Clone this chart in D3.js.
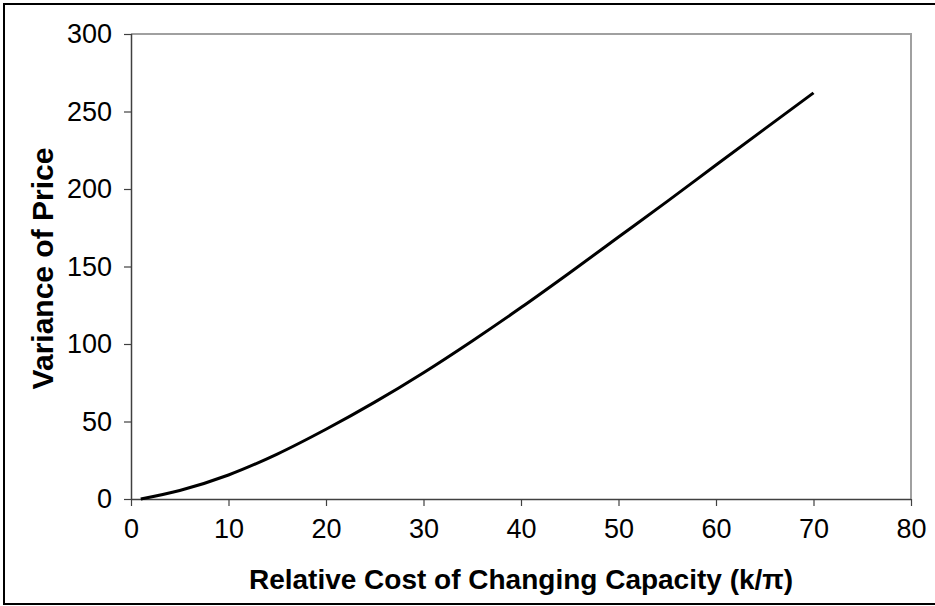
<!DOCTYPE html>
<html>
<head>
<meta charset="utf-8">
<script src="https://cdn.jsdelivr.net/npm/d3@7"></script>
<style>
  html, body { margin: 0; padding: 0; background: #fff; }
  svg { display: block; font-family: "Liberation Sans", Arial, sans-serif; }
</style>
</head>
<body>
<svg id="chart" width="935" height="606"></svg>
<script>
// Relative cost of changing capacity (k/π) vs. variance of price
const costValues = [1, 5, 10, 15, 20, 25, 30, 35, 40, 45, 50, 55, 60, 65, 70];
const varianceValues = [0, 5.5, 15.5, 29, 45, 62.5, 81.5, 102, 123.5, 146, 169, 192, 215.5, 238.8, 262];
const xTicks = [0, 10, 20, 30, 40, 50, 60, 70, 80];
const yTicks = [0, 50, 100, 150, 200, 250, 300];
const xTitle = "Relative Cost of Changing Capacity (k/\u03c0)";
const yTitle = "Variance of Price";

const svg = d3.select("#chart");
const plot = { left: 131, right: 911, top: 34, bottom: 499 };

const x = d3.scaleLinear().domain([0, 80]).range([plot.left, plot.right]);
const y = d3.scaleLinear().domain([0, 300]).range([plot.bottom, plot.top]);

// outer frame (left, top, bottom edges)
svg.append("path")
  .attr("d", `M935,4 H4 V604 H935`)
  .attr("fill", "none")
  .attr("stroke", "#000")
  .attr("stroke-width", 2);

// plot area border: top and right in grey
svg.append("path")
  .attr("d", `M${plot.left},${plot.top} H${plot.right} V${plot.bottom}`)
  .attr("fill", "none")
  .attr("stroke", "#a0a0a0")
  .attr("stroke-width", 2);

// x axis
const xAxis = svg.append("g")
  .attr("transform", `translate(0,${plot.bottom})`)
  .call(d3.axisBottom(x).tickValues(xTicks).tickSize(7).tickPadding(13).tickFormat(d3.format("d")));

// y axis
const yAxis = svg.append("g")
  .attr("transform", `translate(${plot.left},0)`)
  .call(d3.axisLeft(y).tickValues(yTicks).tickSize(7).tickPadding(12).tickFormat(d3.format("d")));

[xAxis, yAxis].forEach(g => {
  g.select(".domain").attr("stroke", "#404040").attr("stroke-width", 1.5);
  g.selectAll(".tick line").attr("stroke", "#404040").attr("stroke-width", 1.2);
  g.selectAll(".tick text")
    .attr("fill", "#000")
    .style("font-size", "27px")
    .style("font-family", "\"Liberation Sans\", Arial, sans-serif");
});
xAxis.selectAll(".domain").attr("d", `M${plot.left},0.5H${plot.right}`);
yAxis.selectAll(".domain").attr("d", `M0.5,${plot.top}V${plot.bottom}`);

// curve
const line = d3.line()
  .x((d, i) => x(costValues[i]))
  .y(d => y(d))
  .curve(d3.curveMonotoneX);

svg.append("path")
  .datum(varianceValues)
  .attr("d", line)
  .attr("fill", "none")
  .attr("stroke", "#000")
  .attr("stroke-width", 3);

// axis titles
svg.append("text")
  .attr("x", (plot.left + plot.right) / 2)
  .attr("y", 589)
  .attr("text-anchor", "middle")
  .style("font-size", "28px")
  .style("font-weight", "bold")
  .text(xTitle);

svg.append("text")
  .attr("transform", `translate(53,${(plot.top + plot.bottom) / 2 + 2}) rotate(-90)`)
  .attr("text-anchor", "middle")
  .style("font-size", "30px")
  .style("font-weight", "bold")
  .text(yTitle);
</script>
</body>
</html>
